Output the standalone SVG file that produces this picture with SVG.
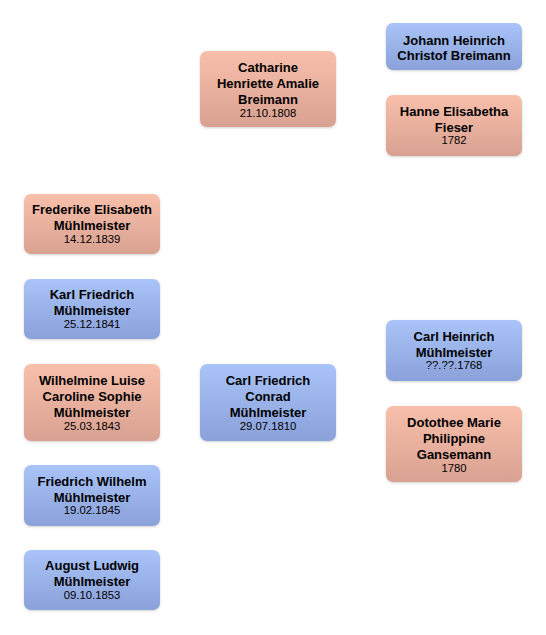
<svg xmlns="http://www.w3.org/2000/svg" width="546" height="635" viewBox="0 0 546 635">
<defs>
<linearGradient id="gF" x1="0" y1="0" x2="0" y2="1">
<stop offset="0" stop-color="#f8bfab"/>
<stop offset="1" stop-color="#d9a191"/>
</linearGradient>
<linearGradient id="gM" x1="0" y1="0" x2="0" y2="1">
<stop offset="0" stop-color="#a9c4f8"/>
<stop offset="1" stop-color="#8aa1d9"/>
</linearGradient>
<filter id="sh" x="-10%" y="-10%" width="120%" height="130%">
<feDropShadow dx="0" dy="1" stdDeviation="1" flood-color="#000" flood-opacity="0.18"/>
</filter>
</defs>
<style>
.f{fill:url(#gF);filter:url(#sh)}
.m{fill:url(#gM);filter:url(#sh)}
text{font-family:"Liberation Sans",Arial,sans-serif;text-anchor:middle;fill:#000}
.n{font-size:13px;font-weight:bold}
.d{font-size:11.3px}
</style>
<rect width="546" height="635" fill="#fff"/>
<g id="connectors"/>
<g id="johann">
<rect class="m" x="386" y="23" width="136" height="47" rx="7"/>
<text class="n" x="454" y="44.5">Johann Heinrich</text>
<text class="n" x="454" y="60">Christof Breimann</text>
</g>
<g id="catharine">
<rect class="f" x="200" y="51" width="136" height="76" rx="7"/>
<text class="n" x="268" y="72">Catharine</text>
<text class="n" x="268" y="88">Henriette Amalie</text>
<text class="n" x="268" y="104">Breimann</text>
<text class="d" x="268" y="116.5">21.10.1808</text>
</g>
<g id="hanne">
<rect class="f" x="386" y="95" width="136" height="61" rx="7"/>
<text class="n" x="454" y="115.5">Hanne Elisabetha</text>
<text class="n" x="454" y="131.5">Fieser</text>
<text class="d" x="454" y="144">1782</text>
</g>
<g id="frederike">
<rect class="f" x="24" y="194" width="136" height="60" rx="7"/>
<text class="n" x="92" y="214">Frederike Elisabeth</text>
<text class="n" x="92" y="230">Mühlmeister</text>
<text class="d" x="92" y="242.5">14.12.1839</text>
</g>
<g id="karl">
<rect class="m" x="24" y="279" width="136" height="60" rx="7"/>
<text class="n" x="92" y="299">Karl Friedrich</text>
<text class="n" x="92" y="315">Mühlmeister</text>
<text class="d" x="92" y="327.5">25.12.1841</text>
</g>
<g id="carlheinrich">
<rect class="m" x="386" y="320" width="136" height="61" rx="7"/>
<text class="n" x="454" y="340.5">Carl Heinrich</text>
<text class="n" x="454" y="356.5">Mühlmeister</text>
<text class="d" x="454" y="369">??.??.1768</text>
</g>
<g id="wilhelmine">
<rect class="f" x="24" y="364" width="136" height="77" rx="7"/>
<text class="n" x="92" y="385">Wilhelmine Luise</text>
<text class="n" x="92" y="401">Caroline Sophie</text>
<text class="n" x="92" y="417">Mühlmeister</text>
<text class="d" x="92" y="429.5">25.03.1843</text>
</g>
<g id="carlfriedrich">
<rect class="m" x="200" y="364" width="136" height="77" rx="7"/>
<text class="n" x="268" y="385">Carl Friedrich</text>
<text class="n" x="268" y="401">Conrad</text>
<text class="n" x="268" y="417">Mühlmeister</text>
<text class="d" x="268" y="429.5">29.07.1810</text>
</g>
<g id="dotothee">
<rect class="f" x="386" y="406" width="136" height="76" rx="7"/>
<text class="n" x="454" y="427">Dotothee Marie</text>
<text class="n" x="454" y="443">Philippine</text>
<text class="n" x="454" y="459">Gansemann</text>
<text class="d" x="454" y="471.5">1780</text>
</g>
<g id="friedrichwilhelm">
<rect class="m" x="24" y="465" width="136" height="61" rx="7"/>
<text class="n" x="92" y="485.5">Friedrich Wilhelm</text>
<text class="n" x="92" y="501.5">Mühlmeister</text>
<text class="d" x="92" y="514">19.02.1845</text>
</g>
<g id="august">
<rect class="m" x="24" y="550" width="136" height="60" rx="7"/>
<text class="n" x="92" y="570">August Ludwig</text>
<text class="n" x="92" y="586">Mühlmeister</text>
<text class="d" x="92" y="598.5">09.10.1853</text>
</g>
</svg>
